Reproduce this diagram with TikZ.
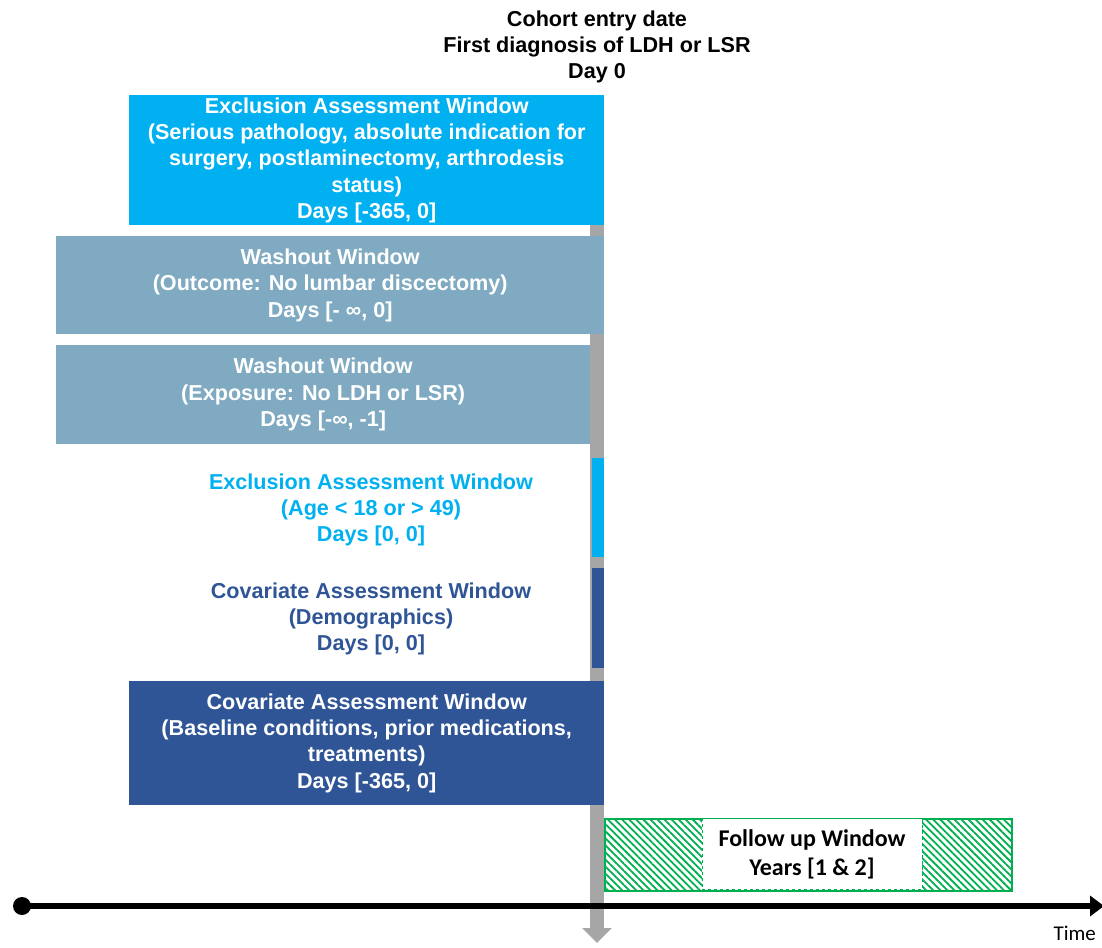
\documentclass[tikz,border=0pt]{standalone}
\usepackage{fontspec}
\setmainfont{Liberation Sans}
\newfontfamily\calibri{Carlito}
\usetikzlibrary{arrows.meta,patterns.meta}

\definecolor{exclblue}{HTML}{00B0F0}
\definecolor{washblue}{HTML}{7FAAC1}
\definecolor{covblue}{HTML}{2F5597}
\definecolor{daygray}{HTML}{A6A6A6}
\definecolor{followgreen}{HTML}{00B050}

\tikzset{
  wintext/.style={inner sep=0pt, align=center,
    font=\fontsize{21.6}{26.3}\selectfont\bfseries},
  winbox/.style={wintext, text=white, anchor=north west},
  winbar/.style={inner sep=0pt, anchor=north west, minimum width=12pt}
}

\begin{document}
\begin{tikzpicture}[x=1pt,y=-1pt]
  \useasboundingbox (0,0) rectangle (1102,947);
  % day 0 marker
  \coordinate (day0top) at (597,95);
  \coordinate (day0end) at (597,943);
  \draw[daygray, line width=14pt, -{Triangle[length=15pt,width=29pt]}] (day0top) -- (day0end);
  \node[wintext, text=black] (entry) at (597,47) {Cohort entry date\\First diagnosis of LDH or LSR\\Day 0};

  % windows before day 0
  \node[winbox, fill=exclblue, minimum width=475pt, minimum height=130pt] (exclpath) at (129,95)
    {Exclusion Assessment Window\\(Serious pathology, absolute indication for\\surgery, postlaminectomy, arthrodesis\\status)\\Days [-365, 0]};
  \node[winbox, fill=washblue, minimum width=548pt, minimum height=98pt] (washout) at (56,236)
    {Washout Window\\(Outcome: No lumbar discectomy)\\Days [- ∞, 0]};
  \node[winbox, fill=washblue, minimum width=534pt, minimum height=99pt] (washexp) at (56,345)
    {Washout Window\\(Exposure: No LDH or LSR)\\Days [-∞, -1]};
  \node[winbar, fill=exclblue, minimum height=99pt] (exclbar) at (592,458) {};
  \node[wintext, text=exclblue] (exclage) at (371,510) {Exclusion Assessment Window\\(Age < 18 or > 49)\\Days [0, 0]};
  \node[winbar, fill=covblue, minimum height=100pt] (covbar) at (592,568) {};
  \node[wintext, text=covblue] (covdemo) at (371,619) {Covariate Assessment Window\\(Demographics)\\Days [0, 0]};
  \node[winbox, fill=covblue, minimum width=475pt, minimum height=124pt] (covbase) at (129,681)
    {Covariate Assessment Window\\(Baseline conditions, prior medications,\\treatments)\\Days [-365, 0]};

  % follow up
  \node[anchor=north west, inner sep=0pt, minimum width=407pt, minimum height=72pt, draw=followgreen, line width=1.3pt,
    pattern={Lines[angle=-45,distance=5pt,line width=1.8pt]}, pattern color=followgreen] (follow) at (604,818) {};
  \node[fill=white, draw=followgreen, dashed, minimum width=220pt, minimum height=71pt, inner sep=0pt,
    align=center, font=\calibri\fontsize{24}{29}\selectfont\bfseries] (followtxt) at (812,854)
    {Follow up Window\\Years [1 \& 2]};

  % time axis
  \coordinate (tstart) at (22,906);
  \coordinate (tend) at (1104,906);
  \draw[line width=6pt, -{Triangle[length=14pt,width=20pt]}] (tstart) -- (tend);
  \fill (tstart) circle (9pt);
  \node[anchor=south east, inner sep=1pt, font=\calibri\fontsize{21}{25}\selectfont] (timelbl) at (1097,942) {Time};
\end{tikzpicture}
\end{document}
